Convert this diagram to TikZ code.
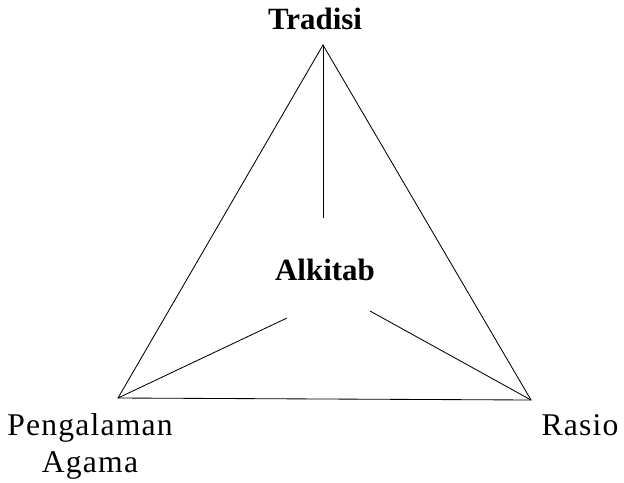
\documentclass[tikz,border=0pt]{standalone}
\usepackage{fontspec}
\setmainfont{Liberation Serif}
\newfontfamily\widefont[LetterSpace=3.8]{Liberation Serif}
\usetikzlibrary{calc}

\begin{document}
\begin{tikzpicture}[x=0.025cm,y=-0.025cm,line width=0.6pt]
  \useasboundingbox (0,0) rectangle (624,482);
  \tikzset{label/.style={anchor=base,font=\widefont\fontsize{22.5}{26}\selectfont,align=center},
           title/.style={anchor=base,font=\fontsize{22}{26}\selectfont\bfseries}}
  % vertices
  \coordinate (T) at (323,45);
  \coordinate (P) at (118,398);
  \coordinate (R) at (531,400);
  % inner ends
  \coordinate (Tin) at (323,218);
  \coordinate (Pin) at (287,318);
  \coordinate (Rin) at (370,311);
  \draw (T) -- (P) -- (R) -- cycle;
  \draw (T) -- (Tin);
  \draw (P) -- (Pin);
  \draw (R) -- (Rin);
  % labels
  \node[title] (tradisi) at (315,29) {Tradisi};
  \node[title] (alkitab) at (325,280) {Alkitab};
  \node[label] (pengalaman) at (90,435) {Pengalaman};
  \node[label] (agama) at (90,472) {Agama};
  \node[label] (rasio) at (580,435) {Rasio};
\end{tikzpicture}
\end{document}
